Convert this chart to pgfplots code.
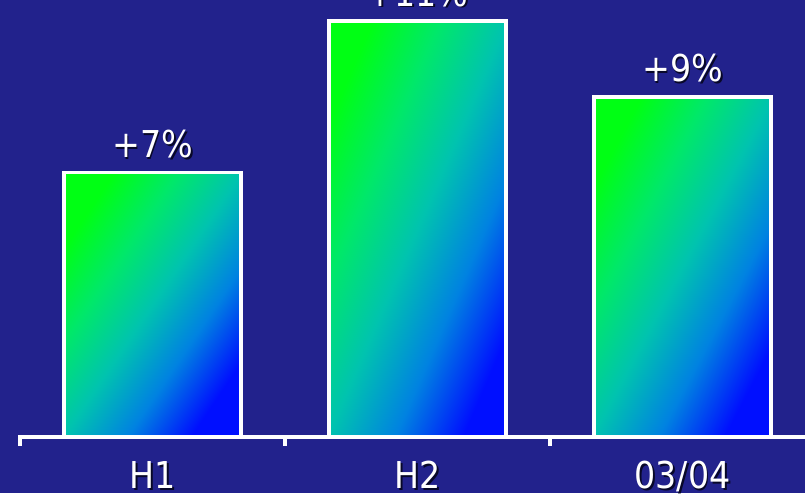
\documentclass[border=0pt]{standalone}
\usepackage{pgfplots}
\pgfplotsset{compat=1.18}
\usepackage{fontspec}
\setmainfont{DejaVu Sans}[FakeStretch=0.9]
\definecolor{bg}{RGB}{34,34,140}
\definecolor{shd}{RGB}{8,8,40}
\definecolor{ga}{RGB}{0,255,20}
\definecolor{gb}{RGB}{0,232,105}
\definecolor{gc}{RGB}{0,195,175}
\definecolor{gd}{RGB}{0,130,225}
\definecolor{ge}{RGB}{0,15,255}
\pgfdeclareverticalshading{barshade}{100bp}{color(0bp)=(ge); color(25bp)=(ge); color(37.5bp)=(gd); color(50bp)=(gc); color(62.5bp)=(gb); color(75bp)=(ga); color(100bp)=(ga)}
\newcommand\sh[1]{\leavevmode\rlap{\kern1.8pt\raisebox{-1.8pt}{\textcolor{shd}{#1}}}#1}
\pgfplotsset{gbar/.style={draw=white, line width=3.5pt, shading=barshade, shading angle=#1}}
\begin{document}
\begin{tikzpicture}
\fill[bg] (0pt,0pt) rectangle (805pt,493pt);
\begin{axis}[at={(0pt,56pt)}, anchor=south west, scale only axis, width=805pt, height=437pt,
 xmin=-0.5755, xmax=2.4623, ymin=0, ymax=11.56,
 axis line style={draw=none}, tick style={draw=none}, ytick=\empty,
 xtick={0,1,2}, xticklabels={\sh{H1},\sh{H2},\sh{03/04}},
 xticklabel style={anchor=base, yshift=-47pt, font=\fontsize{37}{40}\selectfont, text=white},
 clip=false,
 ybar, bar width=177pt, bar shift=0pt,
 nodes near coords={\sh{+\pgfmathprintnumber[assume math mode=true]{\pgfplotspointmeta}\%}},
 every node near coord/.append style={anchor=base, yshift=15pt, font=\fontsize{37}{40}\selectfont, text=white}]
\addplot[gbar=56] coordinates {(0,7)};
\addplot[gbar=66.6] coordinates {(1,11)};
\addplot[gbar=62.1] coordinates {(2,9)};
\draw[white, line width=4pt, line join=miter] ([yshift=-9pt]axis cs:-0.5,0) -- (axis cs:-0.5,0) -- (axis cs:2.5,0);
\draw[white, line width=4pt] (axis cs:0.5,0) -- ([yshift=-9pt]axis cs:0.5,0);
\draw[white, line width=4pt] (axis cs:1.5,0) -- ([yshift=-9pt]axis cs:1.5,0);
\end{axis}
\pgfresetboundingbox
\path[use as bounding box] (0pt,0pt) rectangle (805pt,493pt);
\end{tikzpicture}
\end{document}
